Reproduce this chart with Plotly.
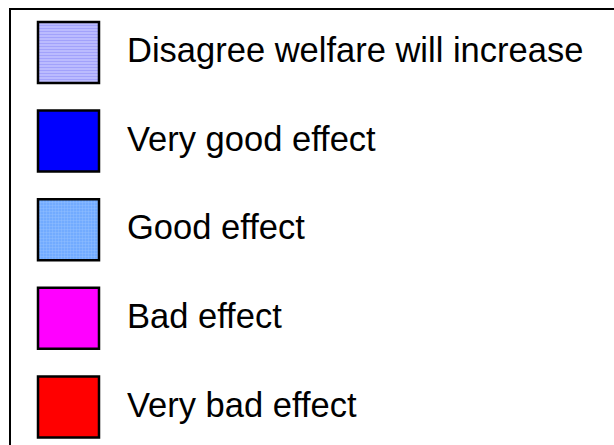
import plotly.graph_objects as go

# Legend entries, top to bottom
labels = [
    "Disagree welfare will increase",
    "Very good effect",
    "Good effect",
    "Bad effect",
    "Very bad effect",
]
fill_colors = ["#C4C4FF", "#0000FF", "#6AA6FF", "#FF00FF", "#FF0000"]
pattern_shapes = ["-", "", ".", "", ""]
pattern_colors = ["#8080F8", None, "#A8CCFF", None, None]

W, H = 614, 445
top0, step = 22, 88.6
sw_left, sw_size = 38, 61
text_x = 127

fig = go.Figure()
for i, lab in enumerate(labels):
    top = top0 + i * step
    pat = dict(shape=pattern_shapes[i])
    if pattern_shapes[i]:
        pat.update(fgcolor=pattern_colors[i], bgcolor=fill_colors[i],
                   size=3, solidity=0.5, fillmode="overlay")
    fig.add_trace(go.Bar(
        x=[sw_left + sw_size / 2], y=[sw_size], base=[top], width=[sw_size],
        marker=dict(color=fill_colors[i], line=dict(color="black", width=2.5),
                    pattern=pat),
        hoverinfo="skip", showlegend=False,
    ))
    fig.add_trace(go.Scatter(
        x=[text_x], y=[top + sw_size / 2 + 1], mode="text", text=[lab],
        textposition="middle right",
        textfont=dict(family="Liberation Sans, Arial", size=34.5, color="black"),
        hoverinfo="skip", showlegend=False,
    ))

# Legend frame
fig.add_shape(type="rect", xref="x", yref="y", x0=10, y0=9, x1=W + 20, y1=H + 20,
              line=dict(color="black", width=2), layer="below")

fig.update_layout(
    width=W, height=H, margin=dict(l=0, r=0, t=0, b=0),
    plot_bgcolor="white", paper_bgcolor="white", barmode="overlay",
    xaxis=dict(range=[0, W], visible=False, fixedrange=True),
    yaxis=dict(range=[H, 0], visible=False, fixedrange=True),
)
fig.write_html("out.html")
